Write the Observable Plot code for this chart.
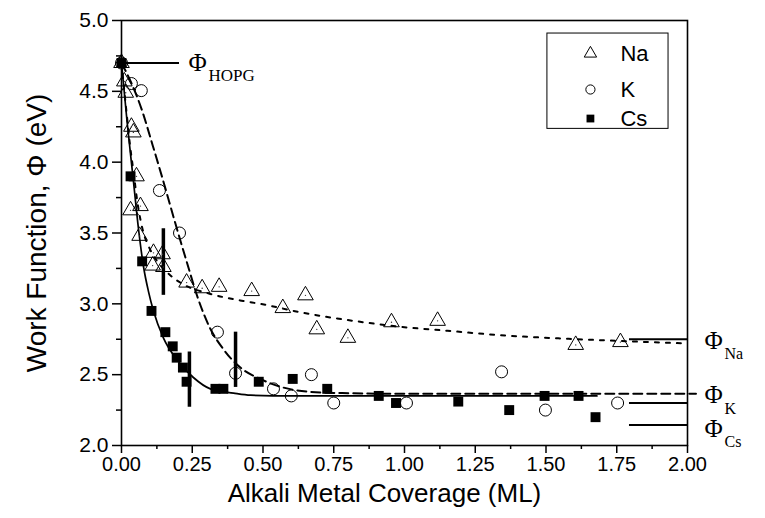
<!DOCTYPE html>
<html>
<head>
<meta charset="utf-8">
<script src="https://cdn.jsdelivr.net/npm/d3@7"></script>
<script src="https://cdn.jsdelivr.net/npm/@observablehq/plot@0.6"></script>
<style>
  body { margin: 0; background: #fff; }
</style>
</head>
<body>
<div id="chart"></div>
<script>
// Work function of HOPG versus alkali metal coverage (Na, K, Cs)

// Measured points: coverage (ML) and work function (eV)
const naCoverage = [0.00, 0.01, 0.015, 0.035, 0.042, 0.053, 0.032, 0.067, 0.064, 0.113, 0.145, 0.11, 0.148, 0.23, 0.285, 0.345, 0.46, 0.57, 0.65, 0.69, 0.80, 0.954, 1.117, 1.605, 1.763];
const naPhi      = [4.70, 4.57, 4.49, 4.25, 4.21, 3.90, 3.66, 3.69, 3.48, 3.36, 3.35, 3.27, 3.26, 3.15, 3.11, 3.12, 3.09, 2.97, 3.06, 2.82, 2.76, 2.87, 2.88, 2.71, 2.73];

const kCoverage = [0.00, 0.035, 0.07, 0.134, 0.205, 0.339, 0.403, 0.537, 0.60, 0.671, 0.75, 1.007, 1.343, 1.498, 1.753];
const kPhi      = [4.70, 4.555, 4.505, 3.80, 3.50, 2.80, 2.51, 2.40, 2.35, 2.50, 2.30, 2.30, 2.52, 2.25, 2.30];

const csCoverage = [0.00, 0.032, 0.073, 0.106, 0.155, 0.181, 0.195, 0.217, 0.23, 0.332, 0.36, 0.485, 0.605, 0.727, 0.909, 0.97, 1.19, 1.37, 1.495, 1.615, 1.675];
const csPhi      = [4.70, 3.90, 3.30, 2.95, 2.80, 2.70, 2.62, 2.55, 2.45, 2.40, 2.40, 2.45, 2.47, 2.40, 2.35, 2.30, 2.31, 2.25, 2.35, 2.35, 2.20];

// Error bars: coverage, lower and upper work function
const errCoverage = [0.148, 0.24, 0.403];
const errLow      = [3.06, 2.27, 2.41];
const errHigh     = [3.53, 2.66, 2.80];

// Fitted curves
const naFitX = [0, 0.01, 0.02, 0.03, 0.042, 0.056, 0.078, 0.095, 0.11, 0.138, 0.173, 0.216, 0.314, 0.43, 0.49, 0.632, 0.75, 0.855, 0.975, 1.152, 1.329, 1.56, 1.8, 2.0];
const naFitY = [4.70, 4.50, 4.31, 4.12, 3.94, 3.72, 3.50, 3.41, 3.35, 3.27, 3.20, 3.14, 3.07, 3.02, 3.00, 2.94, 2.90, 2.87, 2.84, 2.81, 2.78, 2.755, 2.735, 2.72];

const kFitX = [0, 0.03, 0.07, 0.11, 0.15, 0.19, 0.23, 0.27, 0.31, 0.36, 0.42, 0.49, 0.57, 0.66, 0.78, 1.0, 1.5, 2.03];
const kFitY = [4.70, 4.58, 4.38, 4.12, 3.85, 3.57, 3.30, 3.04, 2.84, 2.68, 2.55, 2.47, 2.41, 2.38, 2.37, 2.365, 2.365, 2.365];

const csFitX = [0, 0.02, 0.042, 0.06, 0.078, 0.095, 0.113, 0.148, 0.198, 0.254, 0.314, 0.396, 0.456, 0.6, 1.0, 1.68];
const csFitY = [4.70, 4.28, 3.87, 3.53, 3.26, 3.09, 2.95, 2.76, 2.60, 2.48, 2.40, 2.37, 2.355, 2.35, 2.35, 2.35];

// Reference work-function levels: name, level, segment start/end, label height
const refNames  = ["HOPG", "Na", "K", "Cs"];
const refLevel  = [4.70, 2.75, 2.30, 2.145];
const refStart  = [0.00, 1.795, 1.795, 1.795];
const refEnd    = [0.205, 2.00, 2.00, 2.00];
const refLabelY = [4.70, 2.74, 2.353, 2.115];

// Axis ticks
const xTicks = [0, 0.25, 0.5, 0.75, 1.0, 1.25, 1.5, 1.75, 2.0];
const xTickLabels = ["0.00", "0.25", "0.50", "0.75", "1.00", "1.25", "1.50", "1.75", "2.00"];
const xMinor = [0.125, 0.375, 0.625, 0.875, 1.125, 1.375, 1.625, 1.875];
const yTicks = [2.0, 2.5, 3.0, 3.5, 4.0, 4.5, 5.0];
const yTickLabels = ["2.0", "2.5", "3.0", "3.5", "4.0", "4.5", "5.0"];
const yMinor = [2.25, 2.75, 3.25, 3.75, 4.25, 4.75];

const seriesNames = ["Na", "K", "Cs"];

const toRows = (xs, ys) => xs.map((x, i) => ({x, y: ys[i]}));
const na = toRows(naCoverage, naPhi);
const k = toRows(kCoverage, kPhi);
const cs = toRows(csCoverage, csPhi);
const errs = errCoverage.map((x, i) => ({x, y1: errLow[i], y2: errHigh[i]}));
const refs = refNames.map((name, i) => ({name, y: refLevel[i], x1: refStart[i], x2: refEnd[i], ly: refLabelY[i]}));

const sans = "'Liberation Sans', Arial, sans-serif";
const serif = "'Liberation Serif', 'Times New Roman', serif";

// Legend placement in data units (upper right of the frame)
const legendBox = {x1: 1.505, x2: 1.933, y1: 4.235, y2: 4.908};
const legendRows = seriesNames.map((name, i) => ({name, y: [4.767, 4.513, 4.308][i]}));
const legendSymbols = ["triangle", "circle", "square"];

const xFmt = d => xTickLabels[xTicks.indexOf(d)];
const yFmt = d => yTickLabels[yTicks.indexOf(d)];

const chart = Plot.plot({
  width: 765,
  height: 518,
  marginLeft: 121,
  marginRight: 78,
  marginTop: 20,
  marginBottom: 73,
  x: {domain: [0, 2]},
  y: {domain: [2, 5]},
  style: {fontFamily: sans, background: "#fff", color: "#000", overflow: "visible"},
  marks: [
    // Axes
    Plot.axisX(xTicks, {tickSize: 8, tickPadding: 3, tickFormat: xFmt, fontSize: 20, label: null, strokeWidth: 1.5}),
    Plot.axisX(xMinor, {tickSize: 4, tickFormat: () => "", label: null, strokeWidth: 1.5}),
    Plot.axisY(yTicks, {tickSize: 9, tickPadding: 4, tickFormat: yFmt, fontSize: 21, label: null, strokeWidth: 1.5}),
    Plot.axisY(yMinor, {tickSize: 5, tickFormat: () => "", label: null, strokeWidth: 1.5}),
    Plot.frame({stroke: "#000", strokeWidth: 1.6}),
    Plot.text(["Alkali Metal Coverage (ML)"], {frameAnchor: "bottom", dx: -20, dy: 56, fontSize: 26, fontFamily: sans}),
    Plot.text(["Work Function, \u03A6 (eV)"], {frameAnchor: "left", textAnchor: "middle", dx: -84, rotate: -90, fontSize: 28, fontFamily: sans}),

    // Fitted curves
    Plot.line(toRows(naFitX, naFitY), {x: "x", y: "y", curve: "monotone-x", stroke: "#000", strokeWidth: 2, strokeDasharray: "4,7"}),
    Plot.line(toRows(kFitX, kFitY), {x: "x", y: "y", curve: "monotone-x", stroke: "#000", strokeWidth: 2, strokeDasharray: "9,5"}),
    Plot.line(toRows(csFitX, csFitY), {x: "x", y: "y", curve: "monotone-x", stroke: "#000", strokeWidth: 1.7}),

    // Reference levels
    Plot.ruleY(refs, {y: "y", x1: "x1", x2: "x2", stroke: "#000", strokeWidth: 2}),

    // Error bars
    Plot.ruleX(errs, {x: "x", y1: "y1", y2: "y2", stroke: "#000", strokeWidth: 3.5}),

    // Measured points
    Plot.dot(na, {x: "x", y: "y", symbol: "triangle", r: 5.8, stroke: "#000", fill: "none", strokeWidth: 1}),
    Plot.dot(na, {x: "x", y: "y", r: 0.7, fill: "#333", stroke: null}),
    Plot.dot(k, {x: "x", y: "y", symbol: "circle", r: 6, stroke: "#000", fill: "none", strokeWidth: 1}),
    Plot.dot(cs, {x: "x", y: "y", symbol: "square", r: 5.6, fill: "#000", stroke: null}),

    // Level labels: Φ with the material as subscript
    Plot.text(refs.slice(0, 1), {x: "x2", y: "ly", text: () => "\u03A6", dx: 9, textAnchor: "start", fontSize: 25, fontFamily: serif}),
    Plot.text(refs.slice(0, 1), {x: "x2", y: "ly", text: "name", dx: 29, dy: 13, textAnchor: "start", fontSize: 17, fontFamily: serif}),
    Plot.text(refs.slice(1), {x: "x2", y: "ly", text: () => "\u03A6", dx: 17, textAnchor: "start", fontSize: 25, fontFamily: serif}),
    Plot.text(refs.slice(1), {x: "x2", y: "ly", text: "name", dx: 37, dy: 13, textAnchor: "start", fontSize: 16, fontFamily: serif}),

    // Legend
    Plot.rect([legendBox], {x1: "x1", x2: "x2", y1: "y1", y2: "y2", fill: "#fff", stroke: "#000", strokeWidth: 1}),
    ...legendRows.map((row, i) => Plot.dot([row], {x: 1.657, y: "y", symbol: legendSymbols[i], r: i === 2 ? 4.4 : 4.6,
      stroke: i === 2 ? null : "#000", fill: i === 2 ? "#000" : "none", strokeWidth: 1})),
    Plot.text(legendRows, {x: 1.763, y: "y", text: "name", textAnchor: "start", fontSize: 22, fontFamily: sans})
  ]
});

document.getElementById("chart").append(chart);
</script>
</body>
</html>
